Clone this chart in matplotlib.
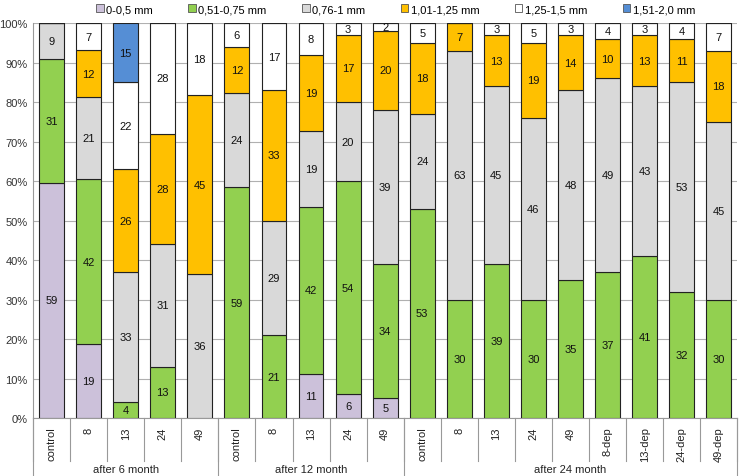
import numpy as np
import matplotlib
matplotlib.use('Agg')
import matplotlib.pyplot as plt
from matplotlib.patches import Patch

plt.rcParams['font.family'] = ['Liberation Sans', 'DejaVu Sans']

categorias = ['control', '8', '13', '24', '49',
              'control', '8', '13', '24', '49',
              'control', '8', '13', '24', '49', '8-dep', '13-dep', '24-dep', '49-dep']
grupos = ['after 6 month', 'after 12 month', 'after 24 month']
tam_grupos = [5, 5, 9]

clases = ['0-0,5 mm', '0,51-0,75 mm', '0,76-1 mm', '1,01-1,25 mm', '1,25-1,5 mm', '1,51-2,0 mm']
colores = ['#ccc1da', '#92d050', '#d9d9d9', '#ffc000', '#ffffff', '#558ed5']

v_0_05 =    [59, 19, 0, 0, 0, 0, 0, 11, 6, 5, 0, 0, 0, 0, 0, 0, 0, 0, 0]
v_051_075 = [31, 42, 4, 13, 0, 59, 21, 42, 54, 34, 53, 30, 39, 30, 35, 37, 41, 32, 30]
v_076_1 =   [9, 21, 33, 31, 36, 24, 29, 19, 20, 39, 24, 63, 45, 46, 48, 49, 43, 53, 45]
v_101_125 = [0, 12, 26, 28, 45, 12, 33, 19, 17, 20, 18, 7, 13, 19, 14, 10, 13, 11, 18]
v_125_15 =  [0, 7, 22, 28, 18, 6, 17, 8, 3, 2, 5, 0, 3, 5, 3, 4, 3, 4, 7]
v_151_2 =   [0, 0, 15, 0, 0, 0, 0, 0, 0, 0, 0, 0, 0, 0, 0, 0, 0, 0, 0]

series = np.array([v_0_05, v_051_075, v_076_1, v_101_125, v_125_15, v_151_2], dtype=float)
porcentaje = series / series.sum(axis=0) * 100

fig = plt.figure(figsize=(7.39, 4.77), dpi=100)
ax = fig.add_axes([0.0447, 0.1216, 0.953, 0.828])

x = np.arange(len(categorias))
base = np.zeros(len(categorias))
for i in range(len(clases)):
    ax.bar(x, porcentaje[i], 0.67, bottom=base, color=colores[i],
           edgecolor='#222222', linewidth=0.8, zorder=3)
    for j in range(len(categorias)):
        if series[i, j] > 0:
            ax.text(x[j], base[j] + porcentaje[i, j] / 2, '%d' % series[i, j],
                    ha='center', va='center', fontsize=8, color='#111111', zorder=4)
    base = base + porcentaje[i]

ax.set_xlim(-0.5, len(categorias) - 0.5)
ax.set_ylim(0, 100)
ax.set_yticks(range(0, 101, 10))
ax.set_yticklabels(['%d%%' % t for t in range(0, 101, 10)], fontsize=8, color='#333333')
ax.yaxis.grid(True, color='#b0b0b0', linewidth=0.8, zorder=0)
ax.tick_params(axis='y', length=0, pad=4)
for s in ['top', 'right']:
    ax.spines[s].set_visible(False)
ax.spines['left'].set_color('#999999')
ax.spines['bottom'].set_color('#999999')

ax.set_xticks(x)
ax.set_xticklabels(categorias, rotation=90, fontsize=8, color='#222222')
ax.tick_params(axis='x', length=0, pad=6)

# separadores del eje x
trans = ax.get_xaxis_transform()
for k in range(len(categorias) + 1):
    ax.plot([k - 0.5, k - 0.5], [0, -0.11], transform=trans, color='#999999',
            linewidth=0.8, clip_on=False)
inicio = 0
for g, n in zip(grupos, tam_grupos):
    ax.plot([inicio - 0.5, inicio - 0.5], [0, -0.15], transform=trans, color='#999999',
            linewidth=0.8, clip_on=False)
    ax.text(inicio + (n - 1) / 2, -0.13, g, transform=trans, ha='center', va='center',
            fontsize=8, color='#222222')
    inicio += n
ax.plot([inicio - 0.5, inicio - 0.5], [0, -0.15], transform=trans, color='#999999',
        linewidth=0.8, clip_on=False)

handles = [Patch(facecolor=c, edgecolor='#555555', linewidth=0.6) for c in colores]
fig.legend(handles, clases, loc='upper center', bbox_to_anchor=(0.535, 1.01), ncol=6,
           frameon=False, fontsize=8, handlelength=0.7, handleheight=0.7,
           handletextpad=0.2, columnspacing=3.2)

fig.savefig('out.png', dpi=100)
